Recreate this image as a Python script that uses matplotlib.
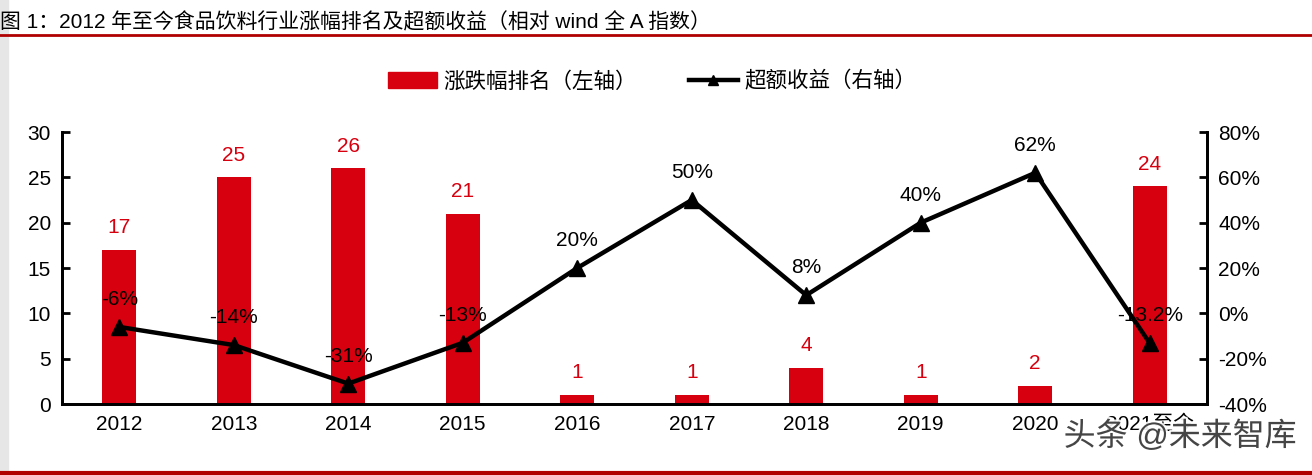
import numpy as np
import matplotlib.pyplot as plt
from matplotlib.lines import Line2D
from matplotlib.patches import Patch, Rectangle
import matplotlib.patheffects as pe

plt.rcParams['font.family'] = ['Liberation Sans', 'Noto Sans CJK SC', 'DejaVu Sans']

years = ["2012", "2013", "2014", "2015", "2016", "2017", "2018", "2019", "2020", "2021至今"]
rank = [17, 25, 26, 21, 1, 1, 4, 1, 2, 24]
excess = [-6, -14, -31, -13, 20, 50, 8, 40, 62, -13.2]
excess_labels = ["-6%", "-14%", "-31%", "-13%", "20%", "50%", "8%", "40%", "62%", "-13.2%"]

red = "#d7000f"
fs = 15

fig = plt.figure(figsize=(13.12, 4.75), dpi=100)
ax = fig.add_axes([62 / 1312, 1 - 404 / 475, (1207 - 62) / 1312, 272 / 475])
ax2 = ax.twinx()

x = np.arange(len(years))
ax.bar(x, rank, width=0.3, color=red, zorder=2)
for xi, v in zip(x, rank):
    ax.annotate(str(v), (xi, v), xytext=(0, 9), textcoords="offset points",
                ha="center", va="bottom", color=red, fontsize=fs)

ax2.plot(x, excess, color="black", lw=3.2, marker="^", markersize=11, zorder=3)
for xi, v, lab in zip(x, excess, excess_labels):
    ax2.annotate(lab, (xi, v), xytext=(0, 13), textcoords="offset points",
                 ha="center", va="bottom", color="black", fontsize=fs)

ax.set_xlim(-0.5, len(years) - 0.5)
ax.set_ylim(0, 30)
ax.set_yticks(range(0, 31, 5))
ax2.set_ylim(-40, 80)
ax2.set_yticks(range(-40, 81, 20))
ax2.set_yticklabels([f"{t}%" for t in range(-40, 81, 20)])
ax.set_xticks(x)
ax.set_xticklabels(years)

for a in (ax, ax2):
    a.spines["top"].set_visible(False)
    for s in ("left", "right", "bottom"):
        a.spines[s].set_linewidth(2)
    a.tick_params(axis="y", direction="in", length=6, width=2, labelsize=fs, pad=8)
ax.tick_params(axis="x", length=0, labelsize=fs, pad=8)
ax.set_zorder(ax2.get_zorder() - 1)
ax.patch.set_visible(True)
ax2.patch.set_visible(False)

handles = [Patch(color=red, label="涨跌幅排名（左轴）"),
           Line2D([], [], color="black", lw=3.2, marker="^", markersize=7, label="超额收益（右轴）")]
fig.legend(handles=handles, loc="center", bbox_to_anchor=(0.497, 1 - 82 / 475), ncol=2,
           frameon=False, fontsize=fs + 0.5, handlelength=2.3, columnspacing=2.4, handletextpad=0.3)

fig.text(0.0, 1 - 22 / 475, "图 1：2012 年至今食品饮料行业涨幅排名及超额收益（相对 wind 全 A 指数）",
         ha="left", va="center", fontsize=15)
fig.add_artist(Line2D([0, 1], [1 - 35 / 475, 1 - 35 / 475], color="#b00000", lw=2))
fig.add_artist(Line2D([0, 1], [1 - 473 / 475, 1 - 473 / 475], color="#b00000", lw=3))
fig.add_artist(Rectangle((0, 0), 8 / 1312, 1, color="#e6e6e6", zorder=0))

fig.text(1297 / 1312, 1 - 437 / 475, "头条 @未来智库", ha="right", va="center", fontsize=23,
         color="#333333", alpha=0.9,
         path_effects=[pe.withStroke(linewidth=3, foreground="white")])

fig.savefig("out.png", dpi=100)
